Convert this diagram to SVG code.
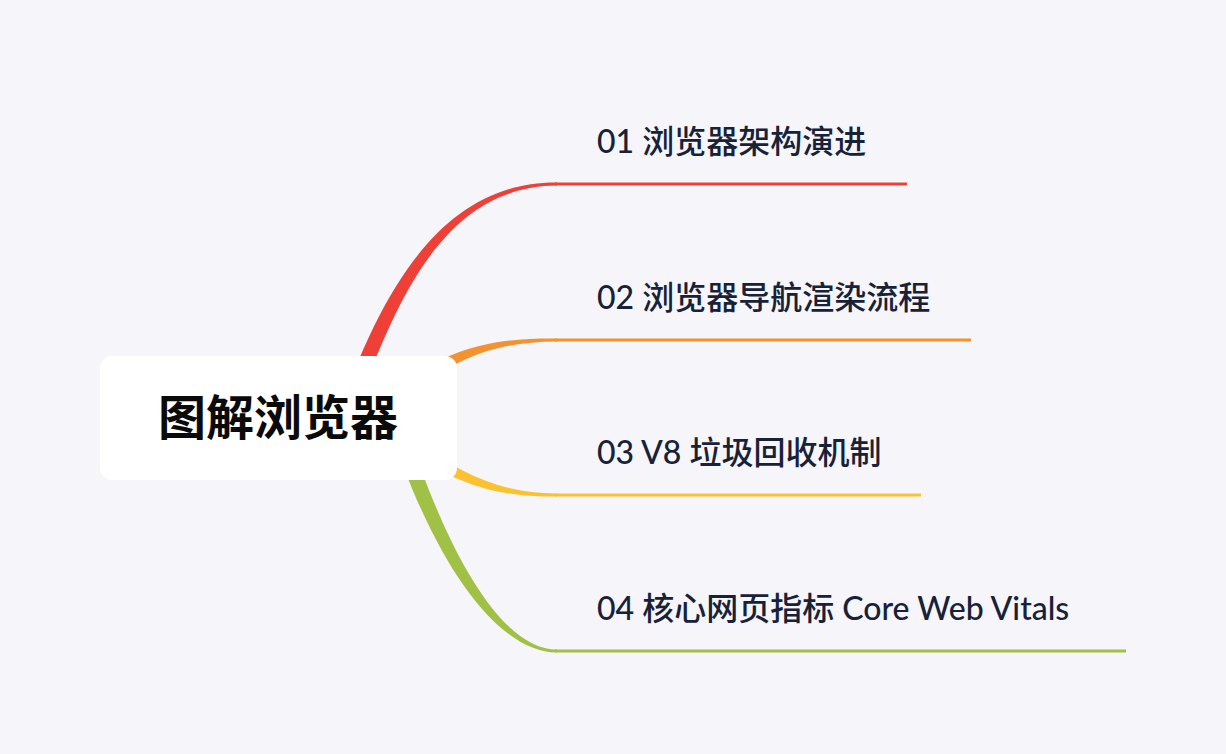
<svg xmlns="http://www.w3.org/2000/svg" width="1226" height="754" viewBox="0 0 1226 754">
<style>
.lbl{font-family:Lato,"Noto Sans CJK SC",sans-serif;font-size:32px;font-weight:500;fill:#172137;}
.root{font-family:"Noto Sans CJK SC",sans-serif;font-size:48px;font-weight:700;fill:#0a0a0a;}
.hl{stroke-width:3;fill:none;stroke-linecap:butt;}
</style>
<rect x="0" y="0" width="1226" height="754" fill="#f5f5fa"/>
<g id="connectors">
  <path d="M 337.5 415.3 C 382.5 287.3, 443.2 181.6, 557 182.5 L 557 185.5 C 446.8 186.4, 397.5 292.7, 352.5 420.7 Z" fill="#ee4037"/>
  <line class="hl" x1="555" y1="184" x2="907" y2="184" stroke="#ee4037"/>
  <path d="M 406.6 380.1 C 456.6 345.1, 499.5 338.1, 557 338.5 L 557 341.5 C 500.5 341.9, 463.4 354.9, 413.4 389.9 Z" fill="#f4922f"/>
  <line class="hl" x1="555" y1="340" x2="971" y2="340" stroke="#f4922f"/>
  <path d="M 413.4 440.1 C 463.4 475.1, 500.7 493.1, 557 493.5 L 557 496.5 C 499.3 496.9, 456.6 484.9, 406.6 449.9 Z" fill="#fcc22e"/>
  <line class="hl" x1="555" y1="495" x2="921" y2="495" stroke="#fcc22e"/>
  <path d="M 387.4 420.4 C 432.4 562.4, 497.5 652.65, 557 652.5 L 557 649.5 C 502.5 649.35, 447.6 557.6, 402.6 415.6 Z" fill="#a0c145"/>
  <line class="hl" x1="555" y1="651" x2="1126" y2="651" stroke="#a0c145"/>
</g>
<g id="root">
  <rect x="100" y="356" width="357" height="124" rx="12" fill="#ffffff"/>
  <text class="root" x="278" y="435" text-anchor="middle">图解浏览器</text>
</g>
<g id="n1"><text class="lbl" x="597" y="153">01 浏览器架构演进</text></g>
<g id="n2"><text class="lbl" x="597" y="309">02 浏览器导航渲染流程</text></g>
<g id="n3"><text class="lbl" x="597" y="464">03 V8 垃圾回收机制</text></g>
<g id="n4"><text class="lbl" x="597" y="620">04 核心网页指标 Core Web Vitals</text></g>
</svg>
